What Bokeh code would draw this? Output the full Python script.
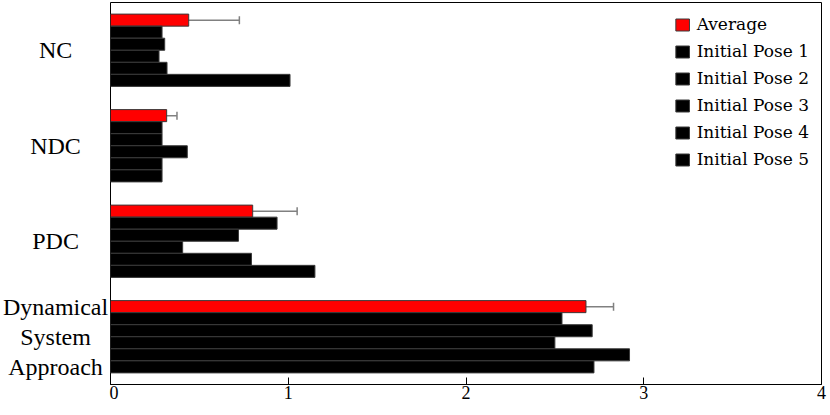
from bokeh.plotting import figure
from bokeh.layouts import row
from bokeh.models import ColumnDataSource, Range1d, Whisker, TeeHead, Legend, LegendItem, FixedTicker
from bokeh.core.properties import value
from bokeh.transform import dodge
from bokeh.embed import file_html
from bokeh.resources import INLINE

categories = ["NC", "NDC", "PDC", "Dynamical\nSystem\nApproach"]
average = [0.44, 0.316, 0.80, 2.675]
average_err = [0.285, 0.058, 0.25, 0.155]
pose1 = [0.29, 0.29, 0.937, 2.54]
pose2 = [0.305, 0.29, 0.72, 2.71]
pose3 = [0.273, 0.432, 0.406, 2.50]
pose4 = [0.318, 0.29, 0.793, 2.92]
pose5 = [1.01, 0.29, 1.15, 2.72]
series_names = ["Average", "Initial Pose 1", "Initial Pose 2", "Initial Pose 3", "Initial Pose 4", "Initial Pose 5"]
x_ticks = [0, 1, 2, 3, 4]

FONT = "Liberation Serif"
idx = list(range(len(categories)))

src = ColumnDataSource(dict(
    idx=idx, cat=categories, avg=average,
    lo=[a - e for a, e in zip(average, average_err)],
    hi=[a + e for a, e in zip(average, average_err)],
    p1=pose1, p2=pose2, p3=pose3, p4=pose4, p5=pose5,
))

yr = Range1d(len(categories) - 0.5, -0.5)

p = figure(width=721, height=415, y_range=yr,
           x_range=Range1d(0, 4), output_backend="svg", toolbar_location=None,
           min_border_left=1, min_border_right=9, min_border_top=2, min_border_bottom=31)

group = 0.757
h = group / 6
cols = ["avg", "p1", "p2", "p3", "p4", "p5"]
colors = ["#ff0000", "#000000", "#000000", "#000000", "#000000", "#000000"]
renderers = []
for j, (c, col) in enumerate(zip(cols, colors)):
    off = -group / 2 + h * (j + 0.5)
    r = p.hbar(y=dodge("idx", off), right=c, left=0, height=h, source=src,
               fill_color=col, line_color="#3a3a3a", line_width=1)
    renderers.append(r)

off0 = -group / 2 + h * 0.5
wh = Whisker(base=dodge("idx", off0), lower="lo", upper="hi", source=src,
             dimension="width", line_color="#808080", line_width=1.5,
             upper_head=TeeHead(size=8, line_color="#808080", line_width=1.5),
             lower_head=TeeHead(size=8, line_color="#808080", line_width=1.5))
p.add_layout(wh)

legend = Legend(items=[LegendItem(label=n, renderers=[r]) for n, r in zip(series_names, renderers)],
                location="top_right", margin=3, padding=9, spacing=7,
                glyph_width=17, glyph_height=15, label_height=20, label_standoff=6,
                border_line_alpha=0, background_fill_alpha=0)
p.add_layout(legend)
p.legend.label_text_font = "DejaVu Serif"
p.legend.label_text_font_size = "17px"
p.legend.label_text_color = "black"

p.grid.visible = False
p.outline_line_color = "black"
p.outline_line_width = 1

p.xaxis.ticker = FixedTicker(ticks=x_ticks)
p.xaxis.minor_tick_line_color = None
p.xaxis.major_tick_in = 7
p.xaxis.major_tick_out = 0
p.xaxis.axis_line_color = "black"
p.xaxis.major_label_text_font = FONT
p.xaxis.major_label_text_font_size = "18px"
p.xaxis.major_label_text_color = "black"
p.xaxis.major_label_standoff = 1

p.yaxis.visible = False

# left panel holding the centred category labels
lab = figure(width=109, height=415, y_range=yr, x_range=Range1d(0, 1),
             output_backend="svg", toolbar_location=None,
             x_axis_location=None, y_axis_location=None,
             min_border_left=0, min_border_right=0, min_border_top=2, min_border_bottom=31)
lab.grid.visible = False
lab.outline_line_color = None
lab.text(x=0.505, y="idx", text="cat", source=src, text_align="center", text_baseline="middle",
         text_font=value(FONT), text_font_size="24px", text_color="black", text_line_height=1.15)

layout = row(lab, p, spacing=0)

open("out.html", "w").write(file_html(layout, INLINE))
